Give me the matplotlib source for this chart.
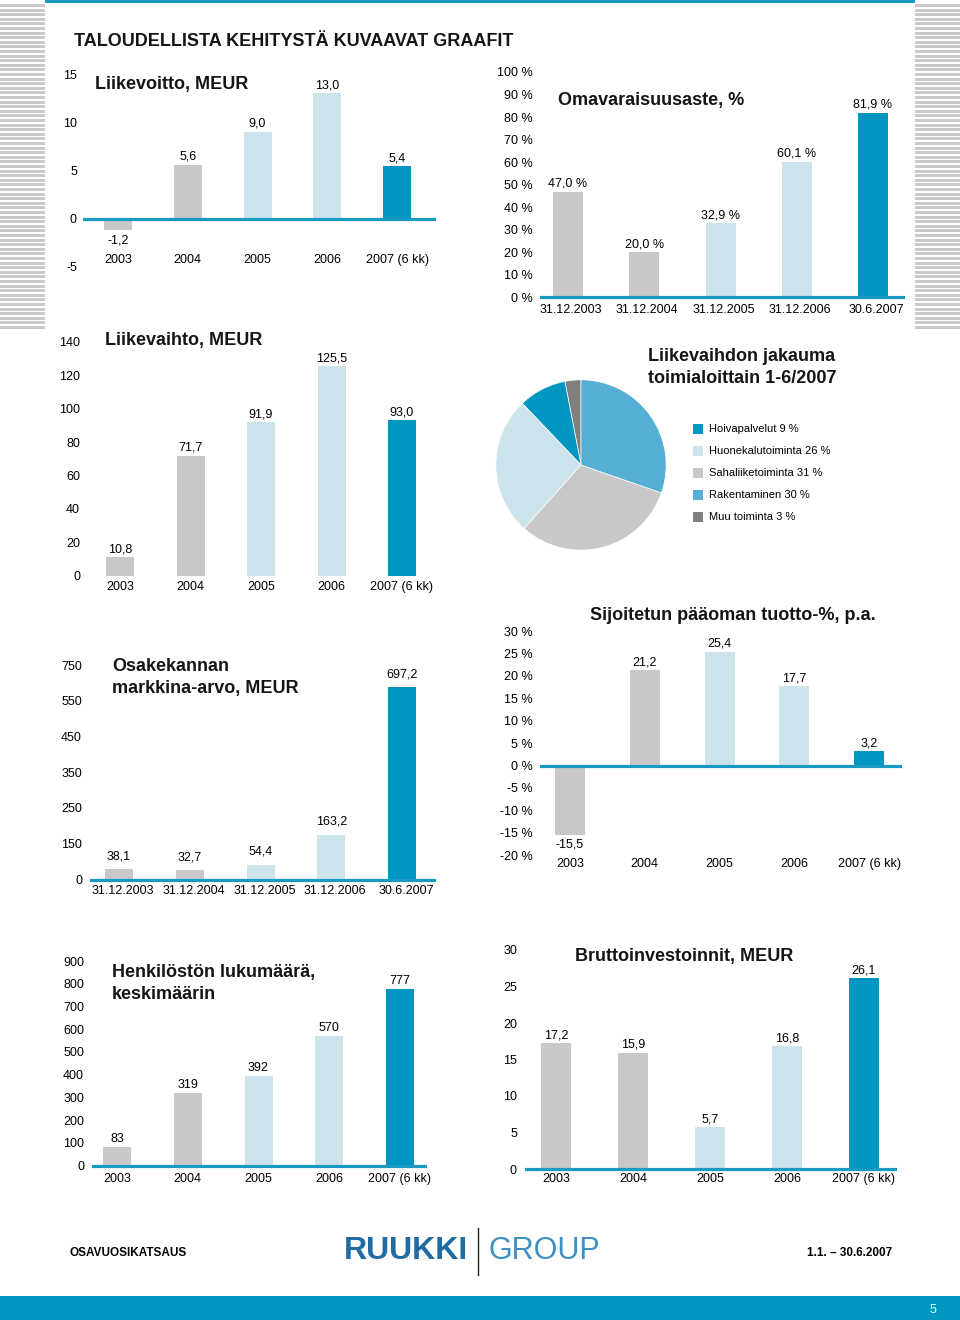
import matplotlib
matplotlib.use('Agg')
import matplotlib.pyplot as plt
import numpy as np
from matplotlib.patches import Rectangle

plt.rcParams['font.family'] = ['Liberation Sans', 'DejaVu Sans']

W, H = 960, 1320
GRAY = '#c8c8c8'
LIGHT = '#cce3ec'
DARK = '#0096c2'
LINE = '#1a9ac3'
BAR_COLORS = [GRAY, GRAY, LIGHT, LIGHT, DARK]

# --- data ---
years = ['2003', '2004', '2005', '2006', '2007 (6 kk)']
dates = ['31.12.2003', '31.12.2004', '31.12.2005', '31.12.2006', '30.6.2007']

liikevoitto = [-1.2, 5.6, 9.0, 13.0, 5.4]
omavaraisuus = [47.0, 20.0, 32.9, 60.1, 81.9]
liikevaihto = [10.8, 71.7, 91.9, 125.5, 93.0]
markkina_arvo = [38.1, 32.7, 54.4, 163.2, 697.2]
sijoitetun_tuotto = [-15.5, 21.2, 25.4, 17.7, 3.2]
henkilosto = [83, 319, 392, 570, 777]
bruttoinvestoinnit = [17.2, 15.9, 5.7, 16.8, 26.1]

toimialat = ['Hoivapalvelut', 'Huonekalutoiminta', 'Sahaliiketoiminta',
             'Rakentaminen', 'Muu toiminta']
osuudet = [9, 26, 31, 30, 3]
pie_colors = ['#0096c2', '#cce3ec', '#c8c8c8', '#55aed4', '#808080']

lv_ticks = [15, 10, 5, 0, -5]
om_ticks = list(range(0, 101, 10))
lvh_ticks = list(range(0, 141, 20))
ma_ticklabels = ['0', '150', '250', '350', '450', '550', '750']
st_ticks = list(range(-20, 31, 5))
hk_ticks = list(range(0, 901, 100))
bi_ticks = list(range(0, 31, 5))


def fi(v, dec=1):
    return f"{v:.{dec}f}".replace('.', ',')


fig = plt.figure(figsize=(W / 100, H / 100), dpi=100)
fig.patch.set_facecolor('white')

# background / page decoration
bg = fig.add_axes([0, 0, 1, 1])
bg.set_xlim(0, W)
bg.set_ylim(H, 0)
bg.axis('off')
for y in np.arange(4, 330, 4.6):
    bg.add_patch(Rectangle((0, y), 45, 3, color='#c9c9c9', lw=0))
    bg.add_patch(Rectangle((915, y), 45, 3, color='#c9c9c9', lw=0))
bg.add_patch(Rectangle((45, 0), 870, 2.5, color=LINE, lw=0))
bg.add_patch(Rectangle((0, 1296), W, 24, color=DARK, lw=0))
bg.text(933, 1310, '5', color='white', fontsize=9, ha='center', va='center')

TITLE = dict(fontsize=13, fontweight='bold', color='#151515', va='center', ha='left')
bg.text(74, 41, 'TALOUDELLISTA KEHITYSTÄ KUVAAVAT GRAAFIT', **TITLE)
bg.text(95, 84, 'Liikevoitto, MEUR', **TITLE)
bg.text(558, 101, 'Omavaraisuusaste, %', **TITLE)
bg.text(105, 340, 'Liikevaihto, MEUR', **TITLE)
bg.text(648, 367.5, 'Liikevaihdon jakauma\ntoimialoittain 1-6/2007', linespacing=1.4, **TITLE)
bg.text(112, 677.5, 'Osakekannan\nmarkkina-arvo, MEUR', linespacing=1.4, **TITLE)
bg.text(590, 616, 'Sijoitetun pääoman tuotto-%, p.a.', **TITLE)
bg.text(112, 983.5, 'Henkilöstön lukumäärä,\nkeskimäärin', linespacing=1.4, **TITLE)
bg.text(575, 957, 'Bruttoinvestoinnit, MEUR', **TITLE)

# footer
bg.text(70, 1253, 'OSAVUOSIKATSAUS', fontsize=8.5, fontweight='bold', va='center')
bg.text(892, 1253, '1.1. – 30.6.2007', fontsize=8.5, fontweight='bold', va='center', ha='right')
bg.text(468, 1251, 'RUUKKI', fontsize=23, fontweight='bold', color='#1f6ca2', va='center', ha='right')
bg.text(489, 1251, 'GROUP', fontsize=22, color='#3d8fc4', va='center', ha='left')
bg.plot([478, 478], [1228, 1275], color='#222222', lw=1)


def bar_panel(vals, cats, labels, x0, x1, c0, c1, zero_px, scale, top_px, bot_px,
              bar_px, tick_right, cat_y, ticks, ticklabels, lab_px=8, cat_dx=0,
              axis_line=True):
    step = (c1 - c0) / (len(vals) - 1)
    ax = fig.add_axes([x0 / W, 1 - bot_px / H, (x1 - x0) / W, (bot_px - top_px) / H])
    ax.set_xlim((x0 - c0) / step, (x1 - c0) / step)
    ax.set_ylim((zero_px - bot_px) / scale, (zero_px - top_px) / scale)
    xs = np.arange(len(vals))
    ax.bar(xs, vals, width=bar_px / step, color=BAR_COLORS, zorder=2)
    if axis_line:
        ax.axhline(0, color=LINE, lw=2.3, zorder=3)
    ax.set_yticks(ticks, ticklabels)
    ax.tick_params(axis='y', length=0, pad=(x0 - tick_right) * 0.72, labelsize=9)
    ax.set_xticks([])
    for s in ax.spines.values():
        s.set_visible(False)
    ax.patch.set_alpha(0)
    for x, v, t in zip(xs, vals, labels):
        off = lab_px if v >= 0 else -(lab_px + 2)
        ax.annotate(t, (x, v), xytext=(0, off * 0.72), textcoords='offset points',
                    ha='center', va='center', fontsize=9, annotation_clip=False)
    cy = (zero_px - cat_y) / scale
    for x, c in zip(xs, cats):
        ax.annotate(c, (x, cy), xytext=(cat_dx * 0.72, 0), textcoords='offset points',
                    ha='center', va='center', fontsize=9, annotation_clip=False)
    return ax


# Liikevoitto
bar_panel(liikevoitto, years, [fi(v) for v in liikevoitto],
          83, 436, 118, 397, 218.5, 9.63, 66, 276, 28, 77, 260,
          lv_ticks, [str(t) for t in lv_ticks])

# Omavaraisuusaste
bar_panel(omavaraisuus, dates, [fi(v) + ' %' for v in omavaraisuus],
          540, 905, 568, 873, 297.5, 2.255, 64, 303, 30, 533, 310,
          om_ticks, [f'{t} %' for t in om_ticks], cat_dx=3)

# Liikevaihto
bar_panel(liikevaihto, years, [fi(v) for v in liikevaihto],
          88, 436, 120, 402, 575.5, 1.668, 334, 581, 28, 80, 587,
          lvh_ticks, [str(t) for t in lvh_ticks], axis_line=False)

# Osakekannan markkina-arvo (evenly spaced labels as in the original)
ma_scale = 0.2754
ma_pos = np.linspace(0, (879.5 - 665) / ma_scale, len(ma_ticklabels))
bar_panel(markkina_arvo, dates, [fi(v) for v in markkina_arvo],
          90, 436, 119, 402, 879.5, ma_scale, 656, 886, 28, 82, 891,
          ma_pos, ma_ticklabels, lab_px=13, cat_dx=4)

# Sijoitetun pääoman tuotto
bar_panel(sijoitetun_tuotto, years, [fi(v) for v in sijoitetun_tuotto],
          540, 902, 570, 869, 765.5, 4.483, 623, 862, 30, 533, 864,
          st_ticks, [f'{t} %' for t in st_ticks])

# Henkilöstö
bar_panel(henkilosto, years, [str(v) for v in henkilosto],
          92, 427, 117, 400, 1165.5, 0.2272, 953, 1172, 28, 84, 1179,
          hk_ticks, [str(t) for t in hk_ticks])

# Bruttoinvestoinnit
bar_panel(bruttoinvestoinnit, years, [fi(v) for v in bruttoinvestoinnit],
          525, 897, 556, 864, 1169, 7.3, 942, 1175, 30, 517, 1179,
          bi_ticks, [str(t) for t in bi_ticks])

# Liikevaihdon jakauma (pie)
pax = fig.add_axes([495 / W, 1 - 551 / H, 172 / W, 172 / H])
order = [4, 0, 1, 2, 3]
pax.pie([osuudet[i] for i in order], colors=[pie_colors[i] for i in order],
        startangle=90, counterclock=True,
        wedgeprops=dict(edgecolor='white', linewidth=0.5))
pax.set_xlim(-1.01, 1.01)
pax.set_ylim(-1.01, 1.01)
pax.set_aspect('equal')

for i, (name, share) in enumerate(zip(toimialat, osuudet)):
    yy = 429 + 22 * i
    bg.add_patch(Rectangle((693, yy - 5), 10, 10, color=pie_colors[i], lw=0))
    bg.text(709, yy, f'{name} {share} %', fontsize=8, va='center', ha='left')

fig.savefig('out.png', dpi=100, facecolor='white')
